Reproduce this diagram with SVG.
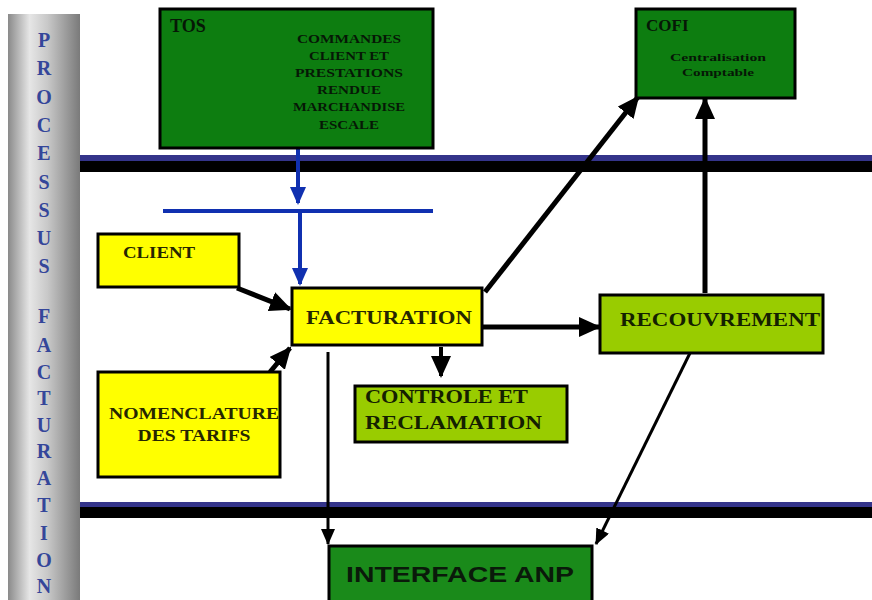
<svg xmlns="http://www.w3.org/2000/svg" width="872" height="600" viewBox="0 0 872 600">
<defs>
<linearGradient id="bar" x1="0" y1="0" x2="1" y2="0">
<stop offset="0" stop-color="#8a8a8a"/>
<stop offset="0.3" stop-color="#e6e6e6"/>
<stop offset="0.55" stop-color="#c8c8c8"/>
<stop offset="1" stop-color="#7a7a7a"/>
</linearGradient>
<marker id="ab" markerUnits="userSpaceOnUse" markerWidth="22" markerHeight="20" refX="20" refY="10" orient="auto">
<path d="M0,0 L22,10 L0,20 Z" fill="#000"/>
</marker>
<marker id="as" markerUnits="userSpaceOnUse" markerWidth="16" markerHeight="14" refX="15" refY="7" orient="auto">
<path d="M0,0 L16,7 L0,14 Z" fill="#000"/>
</marker>
<marker id="au" markerUnits="userSpaceOnUse" markerWidth="18" markerHeight="16" refX="16" refY="8" orient="auto">
<path d="M0,0 L18,8 L0,16 Z" fill="#1030b0"/>
</marker>
<style>
.serif{font-family:"Liberation Serif","Times New Roman",serif;font-weight:bold}
.sans{font-family:"Liberation Sans",Arial,sans-serif;font-weight:bold}
.box{stroke:#000;stroke-width:3}
.dg{fill:#0d7d10}
.ye{fill:#ffff00}
.lg{fill:#99cc00}
.ln{stroke:#000;fill:none}
.bl{stroke:#1030b0;fill:none;stroke-width:4}
.vt{font-size:20px;fill:#34469a;text-anchor:middle}
</style>
</defs>
<rect width="872" height="600" fill="#fff"/>

<g id="sidebar">
<rect x="8" y="14" width="72" height="586" fill="url(#bar)"/>
<g class="serif vt">
<text x="44" y="47">P</text>
<text x="44" y="75">R</text>
<text x="44" y="104">O</text>
<text x="44" y="132">C</text>
<text x="44" y="160">E</text>
<text x="44" y="189">S</text>
<text x="44" y="217">S</text>
<text x="44" y="245">U</text>
<text x="44" y="273">S</text>
<text x="44" y="323">F</text>
<text x="44" y="352">A</text>
<text x="44" y="379">C</text>
<text x="44" y="405">T</text>
<text x="44" y="432">U</text>
<text x="44" y="458">R</text>
<text x="44" y="485">A</text>
<text x="44" y="512">T</text>
<text x="44" y="540">I</text>
<text x="44" y="567">O</text>
<text x="44" y="593">N</text>
</g>
</g>

<g id="bands">
<rect x="80" y="155" width="792" height="6" fill="#34348a"/>
<rect x="80" y="161" width="792" height="11" fill="#000"/>
<rect x="80" y="502" width="792" height="5" fill="#34348a"/>
<rect x="80" y="507" width="792" height="11" fill="#000"/>
</g>

<g id="connectors">
<line class="bl" x1="298" y1="149" x2="298" y2="203" marker-end="url(#au)"/>
<line class="bl" x1="163" y1="211" x2="433" y2="211"/>
<line class="bl" x1="300" y1="211" x2="300" y2="284" marker-end="url(#au)"/>
<line class="ln" stroke-width="5" x1="237" y1="288" x2="290" y2="309" marker-end="url(#ab)"/>
<line class="ln" stroke-width="5" x1="270" y1="372" x2="290" y2="348" marker-end="url(#ab)"/>
<line class="ln" stroke-width="5" x1="485" y1="292" x2="638" y2="97" marker-end="url(#ab)"/>
<line class="ln" stroke-width="5" x1="483" y1="327" x2="599" y2="327" marker-end="url(#ab)"/>
<line class="ln" stroke-width="4" x1="441" y1="347" x2="441" y2="376" marker-end="url(#ab)"/>
<line class="ln" stroke-width="5" x1="705" y1="293" x2="705" y2="99" marker-end="url(#ab)"/>
<line class="ln" stroke-width="3" x1="328" y1="352" x2="328" y2="544" marker-end="url(#as)"/>
<line class="ln" stroke-width="3" x1="690" y1="353" x2="596" y2="544" marker-end="url(#as)"/>
</g>

<g id="tos">
<rect class="box dg" x="160" y="9" width="273" height="139"/>
<text class="serif" x="170" y="32" font-size="18" fill="#061806">TOS</text>
<g class="serif" font-size="13" fill="#061806" text-anchor="middle">
<text x="349" y="43" textLength="104" lengthAdjust="spacingAndGlyphs">COMMANDES</text>
<text x="349" y="60" textLength="80" lengthAdjust="spacingAndGlyphs">CLIENT ET</text>
<text x="349" y="77" textLength="108" lengthAdjust="spacingAndGlyphs">PRESTATIONS</text>
<text x="349" y="94" textLength="64" lengthAdjust="spacingAndGlyphs">RENDUE</text>
<text x="349" y="111" textLength="112" lengthAdjust="spacingAndGlyphs">MARCHANDISE</text>
<text x="349" y="129" textLength="60" lengthAdjust="spacingAndGlyphs">ESCALE</text>
</g>
</g>

<g id="cofi">
<rect class="box dg" x="636" y="9" width="159" height="89"/>
<text class="serif" x="646" y="31" font-size="17" fill="#061806">COFI</text>
<text class="serif" x="718" y="61" font-size="11" fill="#061806" text-anchor="middle" textLength="96" lengthAdjust="spacingAndGlyphs">Centralisation</text>
<text class="serif" x="718" y="76" font-size="11" fill="#061806" text-anchor="middle" textLength="72" lengthAdjust="spacingAndGlyphs">Comptable</text>
</g>

<g id="client">
<rect class="box ye" x="98" y="234" width="141" height="53"/>
<text class="serif" x="123" y="258" font-size="16" fill="#262600" textLength="72" lengthAdjust="spacingAndGlyphs">CLIENT</text>
</g>

<g id="nomenclature">
<rect class="box ye" x="98" y="372" width="182" height="105"/>
<text class="serif" x="194" y="419" font-size="17" fill="#262600" text-anchor="middle" textLength="170" lengthAdjust="spacingAndGlyphs">NOMENCLATURE</text>
<text class="serif" x="194" y="441" font-size="17" fill="#262600" text-anchor="middle" textLength="113" lengthAdjust="spacingAndGlyphs">DES TARIFS</text>
</g>

<g id="facturation">
<rect class="box ye" x="292" y="288" width="190" height="57"/>
<text class="serif" x="389" y="324" font-size="18" fill="#262600" text-anchor="middle" textLength="166" lengthAdjust="spacingAndGlyphs">FACTURATION</text>
</g>

<g id="recouvrement">
<rect class="box lg" x="600" y="295" width="223" height="58"/>
<text class="serif" x="620" y="326" font-size="18" fill="#142000" textLength="200" lengthAdjust="spacingAndGlyphs">RECOUVREMENT</text>
</g>

<g id="controle">
<rect class="box lg" x="355" y="386" width="212" height="56"/>
<text class="serif" x="365" y="403" font-size="18" fill="#142000" textLength="163" lengthAdjust="spacingAndGlyphs">CONTROLE ET</text>
<text class="serif" x="365" y="429" font-size="18" fill="#142000" textLength="177" lengthAdjust="spacingAndGlyphs">RECLAMATION</text>
</g>

<g id="interface">
<rect class="box" fill="#1a8a1a" x="329" y="546" width="263" height="56"/>
<text class="sans" x="460" y="582" font-size="22" fill="#0a1a0a" text-anchor="middle" textLength="228" lengthAdjust="spacingAndGlyphs">INTERFACE  ANP</text>
</g>
</svg>
